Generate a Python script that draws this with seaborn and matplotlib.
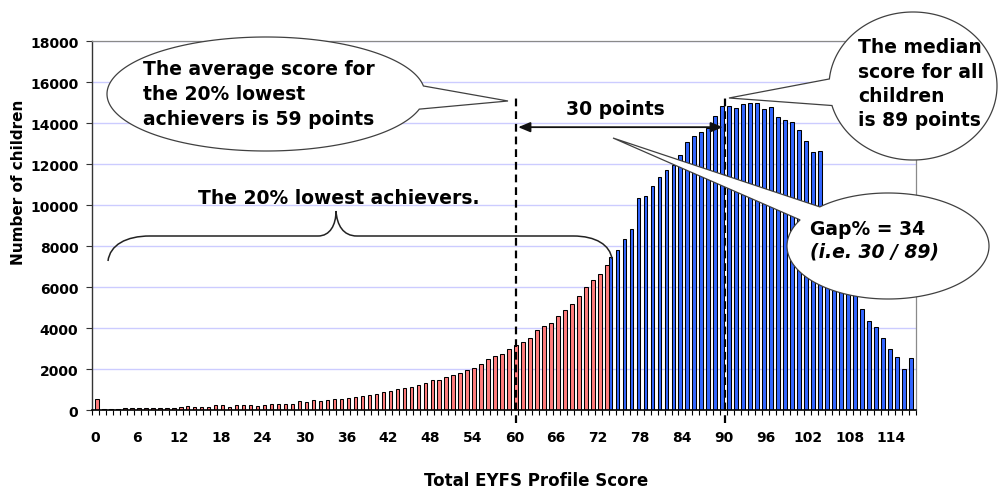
import numpy as np
import pandas as pd
import matplotlib
matplotlib.use("Agg")
import matplotlib.pyplot as plt
import seaborn as sns
from matplotlib.patches import Polygon, PathPatch
from matplotlib.path import Path
from matplotlib.ticker import FixedLocator

# ---------------- data ----------------
SCORES = list(range(0, 118))
RED_SCORES = SCORES[:74]      # the 20% lowest achievers
BLUE_SCORES = SCORES[74:]     # all other children
RED_COUNTS = [560, 75, 75, 60, 120, 120, 120, 120, 120, 120, 120, 125,
              180, 225, 180, 180, 180, 235, 235, 185, 235, 235, 235, 230,
              280, 320, 320, 320, 320, 435, 390, 485, 435, 495, 530, 530, 600, 645,
              700, 745, 800, 910, 965, 1025, 1080, 1140, 1236, 1350, 1496, 1496,
              1610, 1707, 1821, 1984, 2081, 2260, 2520, 2634, 2748, 3008, 3171, 3333,
              3545, 3919, 4098, 4250, 4575, 4910, 5160, 5550, 6030, 6360, 6625, 7065]
BLUE_COUNTS = [7480, 7800, 8350, 8840,
               10325, 10440, 10925, 11360, 11690, 11935, 12420, 13100, 13360, 13544,
               13740, 14358, 14845, 14813, 14748, 14910, 14959, 14959, 14683, 14780,
               14309, 14130, 14065, 13658, 13122, 12601, 12650, 9900, 8900, 7900,
               7000, 6000, 4959, 4358, 4065, 3528, 3008, 2618, 2033, 2553]
GROUP_NAMES = ["low20", "rest"]
Y_TICKS = [0, 2000, 4000, 6000, 8000, 10000, 12000, 14000, 16000, 18000]
X_TICK_LABELS = ["0", "6", "12", "18", "24", "30", "36", "42", "48", "54", "60",
                 "66", "72", "78", "84", "90", "96", "102", "108", "114"]
LOW_AVG_POS = 60.25     # category position of the "59 points" marker line
MEDIAN_POS = 90.15      # category position of the "89 points" marker line

# ---------------- figure ----------------
W, H = 1001, 489
sns.set_theme(style="white")
plt.rcParams["font.family"] = ["DejaVu Sans"]
plt.rcParams["text.color"] = "black"
plt.rcParams["axes.labelcolor"] = "black"
plt.rcParams["xtick.color"] = "black"
plt.rcParams["ytick.color"] = "black"

fig = plt.figure(figsize=(W / 100, H / 100), dpi=100)
fig.patch.set_facecolor("white")

def F(x, y):
    return (x / W, 1 - y / H)

L, R, T, B = 91.7, 916.0, 42.0, 411.3
ax = fig.add_axes([L / W, 1 - B / H, (R - L) / W, (B - T) / H])

df = pd.DataFrame({
    "score": RED_SCORES + BLUE_SCORES,
    "count": RED_COUNTS + BLUE_COUNTS,
    "group": [GROUP_NAMES[0]] * len(RED_SCORES) + [GROUP_NAMES[1]] * len(BLUE_SCORES),
})

sns.barplot(data=df, x="score", y="count", hue="group",
            hue_order=["rest", "low20"],
            palette={"rest": "#3366FF", "low20": "#FF7C7C"},
            order=SCORES, width=1.0, dodge=True, saturation=1,
            edgecolor="black", linewidth=0.75, errorbar=None, legend=False, ax=ax)

ax.set_xlim(-0.5, len(SCORES) - 0.5)
ax.set_ylim(Y_TICKS[0], Y_TICKS[-1])
ax.set_xlabel("")
ax.set_ylabel("")

# grid
ax.set_axisbelow(True)
ax.yaxis.grid(True, color="#CCCCFF", lw=1.0)
ax.xaxis.grid(False)

# spines
for s in ["top", "right"]:
    ax.spines[s].set_visible(True)
    ax.spines[s].set_color("#8a8a8a")
    ax.spines[s].set_linewidth(0.9)
ax.spines["left"].set_color("#333333")
ax.spines["left"].set_linewidth(1.0)
ax.spines["bottom"].set_color("black")
ax.spines["bottom"].set_linewidth(1.2)

# ticks
xt_pos = [SCORES.index(int(v)) for v in X_TICK_LABELS]
ax.set_xticks(xt_pos)
ax.set_xticklabels(X_TICK_LABELS, fontweight="bold", fontsize=10, color="black")
ax.xaxis.set_minor_locator(FixedLocator(np.arange(-0.5, len(SCORES), 1.0)))
ax.tick_params(axis="x", which="major", bottom=True, length=0, pad=14.0)
ax.tick_params(axis="x", which="minor", bottom=True, length=3.6, width=0.8,
               color="black", direction="out")
ax.set_yticks(Y_TICKS)
ax.set_yticklabels([str(v) for v in Y_TICKS], fontweight="bold", fontsize=10,
                   color="black")
ax.tick_params(axis="y", left=True, length=4.1, width=0.8, pad=5.5,
               color="#333333", direction="out")

# axis titles
fig.text(*F(19, 182), "Number of children", rotation=90, ha="center", va="center",
         fontsize=11, fontweight="bold", color="black")
fig.text(*F(536, 481), "Total EYFS Profile Score", ha="center", va="center",
         fontsize=12, fontweight="bold", color="black")

# marker dashed lines
ax.plot([LOW_AVG_POS, LOW_AVG_POS], [-620, 15370], color="black", lw=1.6,
        ls=(0, (3.5, 2.2)), clip_on=False, zorder=5)
ax.plot([MEDIAN_POS, MEDIAN_POS], [-620, 15370], color="black", lw=1.6,
        ls=(0, (3.5, 2.2)), clip_on=False, zorder=5)

# 30 points arrow
ax.annotate("", xy=(LOW_AVG_POS + 0.3, 13800), xytext=(MEDIAN_POS - 0.3, 13800),
            arrowprops=dict(arrowstyle="<|-|>,head_length=0.6,head_width=0.25",
                            color="#111111", lw=1.3, shrinkA=0, shrinkB=0),
            zorder=5)

# ---------------- callouts ----------------
def bubble(cx, cy, rx, ry, a1, a2, tip):
    t1 = np.arctan2((a1[1] - cy) / ry, (a1[0] - cx) / rx)
    t2 = np.arctan2((a2[1] - cy) / ry, (a2[0] - cx) / rx)
    d = (t2 - t1) % (2 * np.pi)
    if d < np.pi:
        start, end = t1 + d, t1 + 2 * np.pi
    else:
        d2 = (t1 - t2) % (2 * np.pi)
        start, end = t2 + d2, t2 + 2 * np.pi
    ts = np.linspace(start, end, 300)
    pts = [F(cx + rx * np.cos(t), cy + ry * np.sin(t)) for t in ts]
    pts.append(F(*tip))
    p = Polygon(pts, closed=True, transform=fig.transFigure, facecolor="white",
                edgecolor="#404040", lw=0.9, zorder=6)
    fig.add_artist(p)

bubble(266, 95, 159, 57, (423, 87), (418, 110), (508, 102))
bubble(913, 87, 84, 74, (830, 80), (830, 107), (729, 99))
bubble(888, 247, 101, 53, (797, 220), (820, 208), (613, 139))

# curly brace
verts = [F(108, 262), F(110, 246), F(126, 237), F(150, 237),
         F(318, 237),
         F(330, 237), F(336, 226), F(336, 212),
         F(337, 226), F(343, 237), F(357, 237),
         F(573, 237),
         F(596, 237), F(610, 246), F(612, 260)]
codes = [Path.MOVETO, Path.CURVE4, Path.CURVE4, Path.CURVE4,
         Path.LINETO,
         Path.CURVE4, Path.CURVE4, Path.CURVE4,
         Path.CURVE4, Path.CURVE4, Path.CURVE4,
         Path.LINETO,
         Path.CURVE4, Path.CURVE4, Path.CURVE4]
fig.add_artist(PathPatch(Path(verts, codes), transform=fig.transFigure, fill=False,
                         edgecolor="#222222", lw=1.1, zorder=5))

# texts
TK = dict(fontsize=13.5, fontweight="bold", ha="left", va="baseline", zorder=7,
          color="black")
for txt, y in [("The average score for", 75), ("the 20% lowest", 100),
               ("achievers is 59 points", 125)]:
    fig.text(*F(143, y), txt, **TK)
for txt, y in [("The median", 53), ("score for all", 77.5), ("children", 102),
               ("is 89 points", 126.5)]:
    fig.text(*F(858, y), txt, **TK)
fig.text(*F(566, 115.5), "30 points", **TK)
fig.text(*F(198, 204.5), "The 20% lowest achievers.", **TK)
fig.text(*F(810, 235), "Gap% = 34", **TK)
fig.text(*F(810, 258), "(i.e. 30 / 89)", fontstyle="italic", **TK)

fig.savefig("out.png", dpi=100)
